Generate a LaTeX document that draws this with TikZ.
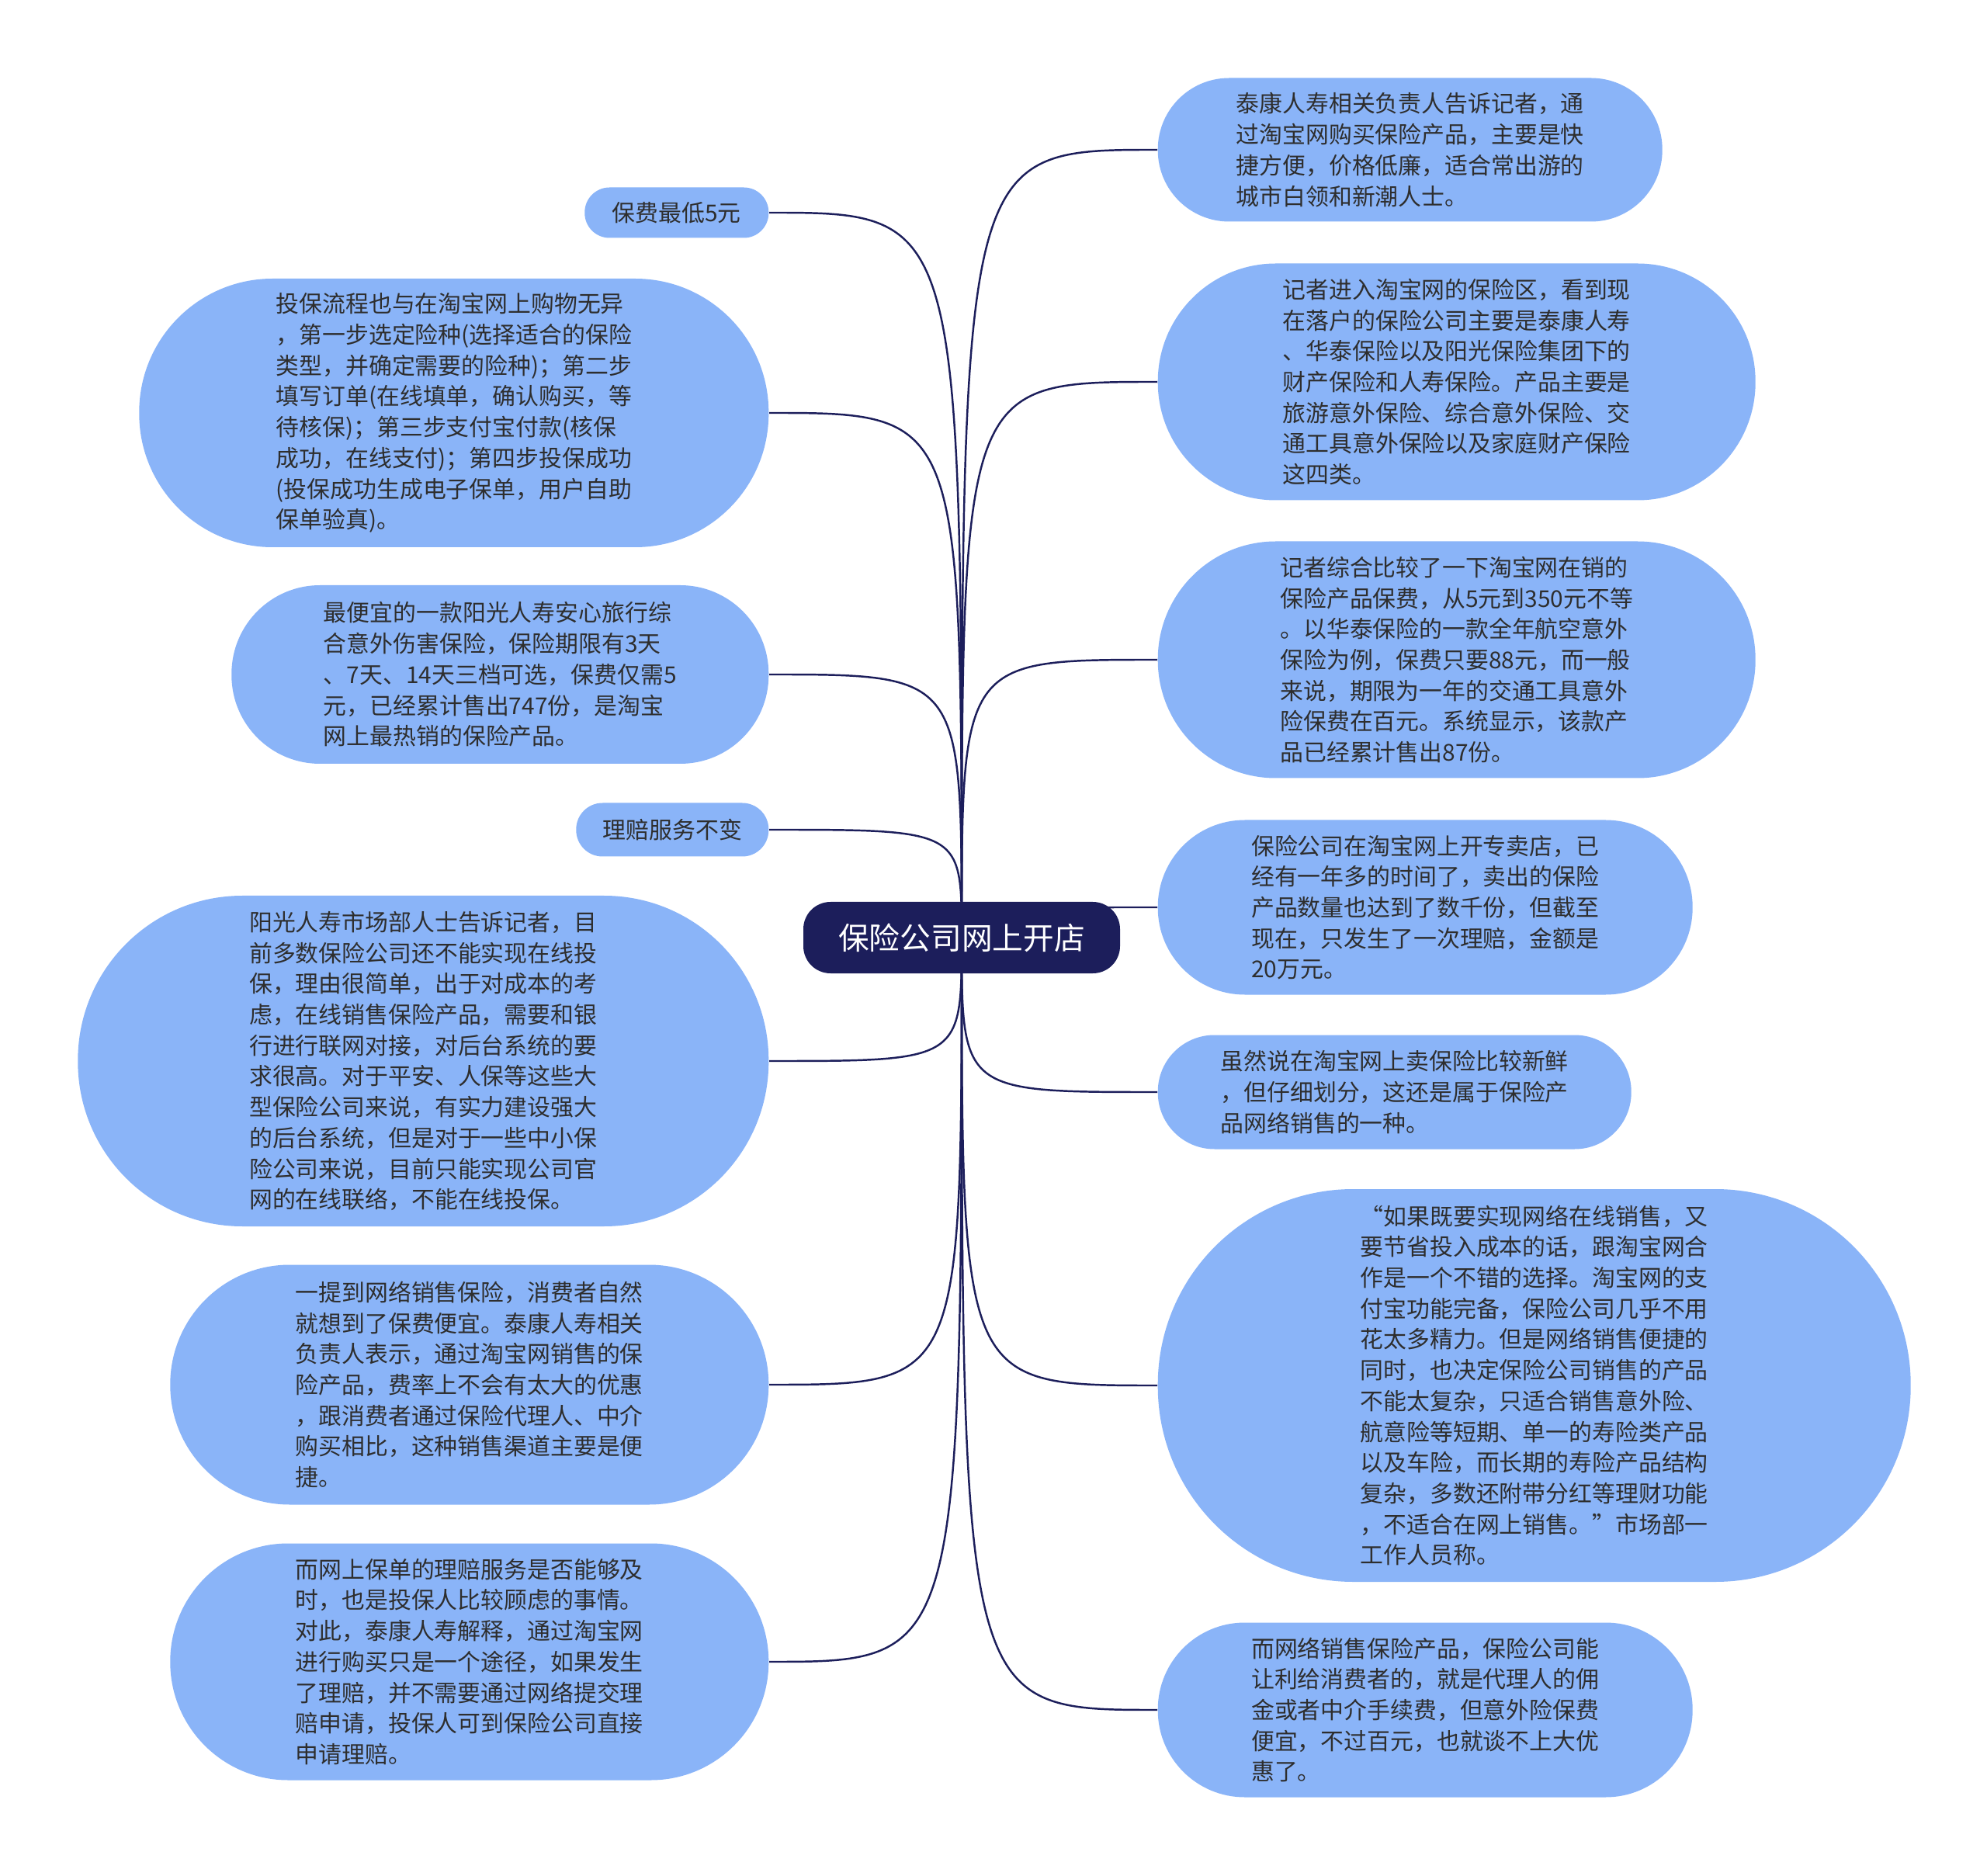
\documentclass[tikz,border=0pt]{standalone}
\usepackage{fontspec}
\usepackage{xcolor}
\usepackage{tikz}
\newfontfamily\cjk{Noto Sans CJK SC}
\definecolor{navy}{HTML}{1C1E5B}
\definecolor{leafblue}{HTML}{8AB4F8}
\definecolor{ink}{HTML}{2E2E2E}
\pgfdeclarelayer{bg}\pgfsetlayers{bg,main}
\tikzset{leaf/.style={fill=leafblue,text=ink,align=left,inner sep=0pt,font=\cjk\fontsize{8.5}{11.3}\selectfont},hub/.style={fill=navy,text=white,rounded corners=.35cm,minimum width=4.08cm,minimum height=.92cm,font=\cjk\fontsize{11.3}{13}\selectfont},link/.style={draw=navy,line width=.7pt}}

\begin{document}
\begin{tikzpicture}
\useasboundingbox (0,0) rectangle (25.6,-24.17);
\node[hub] (c) at (12.39,-12.08) {保险公司网上开店};
% left branch
\node[leaf,anchor=east,minimum width=2.37cm,minimum height=.65cm,rounded corners=.32cm] (l1) at (9.91,-2.74) {保费最低5元};
\node[leaf,anchor=east,minimum width=8.11cm,minimum height=3.46cm,rounded corners=1.72cm] (l2) at (9.91,-5.32) {投保流程也与在淘宝网上购物无异\\，第一步选定险种(选择适合的保险\\类型，并确定需要的险种)；第二步\\填写订单(在线填单，确认购买，等\\待核保)；第三步支付宝付款(核保\\成功，在线支付)；第四步投保成功\\(投保成功生成电子保单，用户自助\\保单验真)。};
\node[leaf,anchor=east,minimum width=6.92cm,minimum height=2.30cm,rounded corners=1.14cm] (l3) at (9.91,-8.69) {最便宜的一款阳光人寿安心旅行综\\合意外伤害保险，保险期限有3天\\、7天、14天三档可选，保费仅需5\\元，已经累计售出747份，是淘宝\\网上最热销的保险产品。};
\node[leaf,anchor=east,minimum width=2.48cm,minimum height=.69cm,rounded corners=.34cm] (l4) at (9.91,-10.69) {理赔服务不变};
\node[leaf,anchor=east,minimum width=8.90cm,minimum height=4.26cm,rounded corners=2.12cm] (l5) at (9.91,-13.67) {阳光人寿市场部人士告诉记者，目\\前多数保险公司还不能实现在线投\\保，理由很简单，出于对成本的考\\虑，在线销售保险产品，需要和银\\行进行联网对接，对后台系统的要\\求很高。对于平安、人保等这些大\\型保险公司来说，有实力建设强大\\的后台系统，但是对于一些中小保\\险公司来说，目前只能实现公司官\\网的在线联络，不能在线投保。};
\node[leaf,anchor=east,minimum width=7.71cm,minimum height=3.09cm,rounded corners=1.54cm] (l6) at (9.91,-17.84) {一提到网络销售保险，消费者自然\\就想到了保费便宜。泰康人寿相关\\负责人表示，通过淘宝网销售的保\\险产品，费率上不会有太大的优惠\\，跟消费者通过保险代理人、中介\\购买相比，这种销售渠道主要是便\\捷。};
\node[leaf,anchor=east,minimum width=7.71cm,minimum height=3.05cm,rounded corners=1.52cm] (l7) at (9.91,-21.41) {而网上保单的理赔服务是否能够及\\时，也是投保人比较顾虑的事情。\\对此，泰康人寿解释，通过淘宝网\\进行购买只是一个途径，如果发生\\了理赔，并不需要通过网络提交理\\赔申请，投保人可到保险公司直接\\申请理赔。};
% right branch
\node[leaf,anchor=west,minimum width=6.50cm,minimum height=1.85cm,rounded corners=.92cm] (r1) at (14.91,-1.93) {泰康人寿相关负责人告诉记者，通\\过淘宝网购买保险产品，主要是快\\捷方便，价格低廉，适合常出游的\\城市白领和新潮人士。};
\node[leaf,anchor=west,minimum width=7.70cm,minimum height=3.05cm,rounded corners=1.52cm] (r2) at (14.91,-4.92) {记者进入淘宝网的保险区，看到现\\在落户的保险公司主要是泰康人寿\\、华泰保险以及阳光保险集团下的\\财产保险和人寿保险。产品主要是\\旅游意外保险、综合意外保险、交\\通工具意外保险以及家庭财产保险\\这四类。};
\node[leaf,anchor=west,minimum width=7.70cm,minimum height=3.05cm,rounded corners=1.52cm] (r3) at (14.91,-8.50) {记者综合比较了一下淘宝网在销的\\保险产品保费，从5元到350元不等\\。以华泰保险的一款全年航空意外\\保险为例，保费只要88元，而一般\\来说，期限为一年的交通工具意外\\险保费在百元。系统显示，该款产\\品已经累计售出87份。};
\node[leaf,anchor=west,minimum width=6.89cm,minimum height=2.25cm,rounded corners=1.12cm] (r4) at (14.91,-11.69) {保险公司在淘宝网上开专卖店，已\\经有一年多的时间了，卖出的保险\\产品数量也达到了数千份，但截至\\现在，只发生了一次理赔，金额是\\20万元。};
\node[leaf,anchor=west,minimum width=6.10cm,minimum height=1.47cm,rounded corners=.73cm] (r5) at (14.91,-14.07) {虽然说在淘宝网上卖保险比较新鲜\\，但仔细划分，这还是属于保险产\\品网络销售的一种。};
\node[leaf,anchor=west,minimum width=9.70cm,minimum height=5.06cm,rounded corners=2.52cm] (r6) at (14.91,-17.85) {“如果既要实现网络在线销售，又\\要节省投入成本的话，跟淘宝网合\\作是一个不错的选择。淘宝网的支\\付宝功能完备，保险公司几乎不用\\花太多精力。但是网络销售便捷的\\同时，也决定保险公司销售的产品\\不能太复杂，只适合销售意外险、\\航意险等短期、单一的寿险类产品\\以及车险，而长期的寿险产品结构\\复杂，多数还附带分红等理财功能\\，不适合在网上销售。”市场部一\\工作人员称。};
\node[leaf,anchor=west,minimum width=6.89cm,minimum height=2.25cm,rounded corners=1.12cm] (r7) at (14.91,-22.03) {而网络销售保险产品，保险公司能\\让利给消费者的，就是代理人的佣\\金或者中介手续费，但意外险保费\\便宜，不过百元，也就谈不上大优\\惠了。};
% connectors behind the hub
\begin{pgfonlayer}{bg}
\fill[white] (0,0) rectangle (25.6,-24.17);
\draw[link] (c.center) .. controls (c.center |- l1.east) .. (l1.east);\draw[link] (c.center) .. controls (c.center |- l2.east) .. (l2.east);
\draw[link] (c.center) .. controls (c.center |- l3.east) .. (l3.east);\draw[link] (c.center) .. controls (c.center |- l4.east) .. (l4.east);
\draw[link] (c.center) .. controls (c.center |- l5.east) .. (l5.east);\draw[link] (c.center) .. controls (c.center |- l6.east) .. (l6.east);
\draw[link] (c.center) .. controls (c.center |- l7.east) .. (l7.east);
\draw[link] (c.center) .. controls (c.center |- r1.west) .. (r1.west);\draw[link] (c.center) .. controls (c.center |- r2.west) .. (r2.west);
\draw[link] (c.center) .. controls (c.center |- r3.west) .. (r3.west);\draw[link] (c.center) .. controls (c.center |- r4.west) .. (r4.west);
\draw[link] (c.center) .. controls (c.center |- r5.west) .. (r5.west);\draw[link] (c.center) .. controls (c.center |- r6.west) .. (r6.west);
\draw[link] (c.center) .. controls (c.center |- r7.west) .. (r7.west);
\end{pgfonlayer}
\end{tikzpicture}
\end{document}
